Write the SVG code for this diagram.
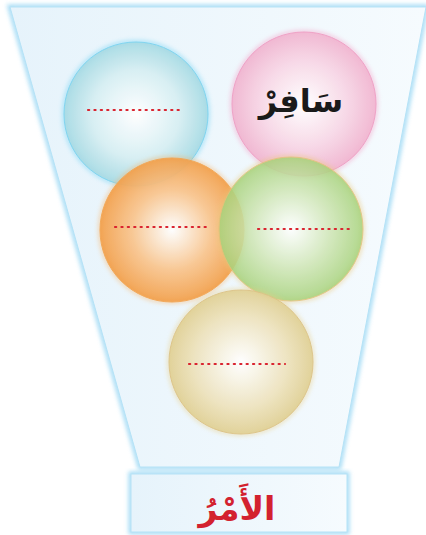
<svg xmlns="http://www.w3.org/2000/svg" width="426" height="535" viewBox="0 0 426 535">
<defs>
<filter id="glow" x="-10%" y="-10%" width="120%" height="120%"><feGaussianBlur stdDeviation="2"/></filter>
<linearGradient id="funnelG" x1="0" y1="0" x2="1" y2="0"><stop offset="0" stop-color="#e6f3fb"/><stop offset="1" stop-color="#f6fbfe"/></linearGradient>
<radialGradient id="gBlue" cx="0.5" cy="0.5" r="0.5"><stop offset="0" stop-color="#ffffff"/><stop offset="0.6" stop-color="#d8eff3"/><stop offset="1" stop-color="#a8dbe4"/></radialGradient>
<radialGradient id="gPink" cx="0.5" cy="0.5" r="0.5"><stop offset="0" stop-color="#ffffff"/><stop offset="0.6" stop-color="#f8d7e6"/><stop offset="1" stop-color="#f1b6d1"/></radialGradient>
<radialGradient id="gOrange" cx="0.5" cy="0.5" r="0.5"><stop offset="0" stop-color="#ffffff"/><stop offset="0.55" stop-color="#f9c58e"/><stop offset="1" stop-color="#f3a04b"/></radialGradient>
<radialGradient id="gGreen" cx="0.5" cy="0.5" r="0.5"><stop offset="0" stop-color="#ffffff"/><stop offset="0.55" stop-color="#cfe6b4"/><stop offset="1" stop-color="#a7d27a"/></radialGradient>
<radialGradient id="gYellow" cx="0.5" cy="0.5" r="0.5"><stop offset="0" stop-color="#ffffff"/><stop offset="0.6" stop-color="#efe5c3"/><stop offset="1" stop-color="#e1d196"/></radialGradient>
</defs>
<style>
.dots{stroke:#d9232f;stroke-width:2.2;stroke-dasharray:1.2 5.2;stroke-linecap:round;fill:none}
.ar{font-family:"DejaVu Sans",sans-serif;font-weight:bold;text-anchor:middle}
.halo{fill:none;stroke-width:4;opacity:0.5;filter:url(#glow)}
</style>
<g id="funnel">
<polygon points="10,7 426,7 339,467 140,467" fill="none" stroke="#8fd3f3" stroke-width="5" opacity="0.8" filter="url(#glow)"/>
<polygon points="10,7 426,7 339,467 140,467" fill="url(#funnelG)" stroke="#b5e2f6" stroke-width="1"/>
</g>
<g id="label">
<rect x="131" y="474" width="216" height="58" fill="none" stroke="#8fd3f3" stroke-width="5" opacity="0.8" filter="url(#glow)"/>
<rect x="131" y="474" width="216" height="58" fill="url(#funnelG)" stroke="#b5e2f6" stroke-width="1"/>
<text class="ar" x="237" y="520" font-size="33" fill="#d3222f">الأَمْرُ</text>
</g>
<g id="blue">
<circle cx="136" cy="114" r="72" class="halo" stroke="#6fd0f2"/>
<circle cx="136" cy="114" r="72" fill="url(#gBlue)" stroke="#7dd3ef" stroke-width="1" opacity="0.95"/>
<line class="dots" x1="88" y1="110" x2="183" y2="110"/>
</g>
<g id="pink">
<circle cx="304" cy="104" r="72" class="halo" stroke="#f39cc3"/>
<circle cx="304" cy="104" r="72" fill="url(#gPink)" stroke="#ee9fc4" stroke-width="1" opacity="0.95"/>
<text class="ar" x="301" y="112" font-size="32" fill="#1a1a1a">سَافِرْ</text>
</g>
<g id="orange">
<circle cx="172" cy="230" r="72" class="halo" stroke="#f7b46a"/>
<circle cx="172" cy="230" r="72" fill="url(#gOrange)" stroke="#f2a451" stroke-width="1" opacity="0.93"/>
<line class="dots" x1="115" y1="227" x2="209" y2="227"/>
</g>
<g id="green">
<circle cx="291" cy="229" r="72" class="halo" stroke="#e9c77b"/>
<circle cx="291" cy="229" r="72" fill="url(#gGreen)" stroke="#e2c17a" stroke-width="1" opacity="0.85"/>
<line class="dots" x1="258" y1="229" x2="352" y2="229"/>
</g>
<g id="yellow">
<circle cx="241" cy="362" r="72" class="halo" stroke="#e8cf8a"/>
<circle cx="241" cy="362" r="72" fill="url(#gYellow)" stroke="#dcc387" stroke-width="1" opacity="0.95"/>
<line class="dots" x1="189" y1="364" x2="285" y2="364"/>
</g>
<g id="connectors"/>
</svg>
